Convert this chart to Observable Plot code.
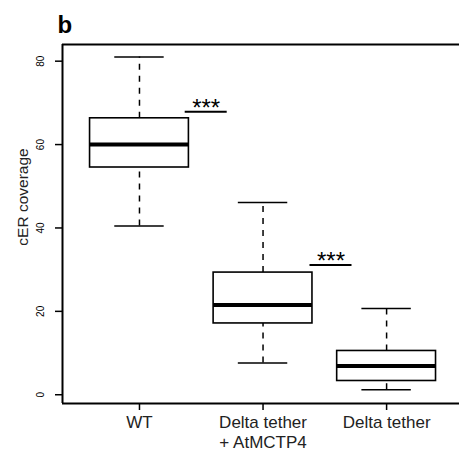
<!DOCTYPE html>
<html>
<head>
<meta charset="utf-8">
<script src="https://cdn.jsdelivr.net/npm/d3@7"></script>
<script src="https://cdn.jsdelivr.net/npm/@observablehq/plot@0.6"></script>
<style>
  html, body { margin: 0; padding: 0; background: #fff; }
</style>
</head>
<body>
<div id="chart"></div>
<script>
// ---- data ----
const groups = ["WT", "Delta tether\n+ AtMCTP4", "Delta tether"];
const positions = [1, 2, 3];
const whiskerLow = [40.5, 7.6, 1.2];
const q1 = [54.5, 17.1, 3.3];
const median = [60.0, 21.5, 6.9];
const q3 = [66.3, 29.3, 10.5];
const whiskerHigh = [81.0, 46.1, 20.7];

const sigStart = [1.37, 2.38];
const sigEnd = [1.71, 2.72];
const sigY = [67.9, 31.1];
const sigLabel = ["***", "***"];

const yTicks = [0, 20, 40, 60, 80];
const yLabel = "cER coverage";
const panelLabel = "b";

const xDomain = [0.377, 3.59];
const yDomain = [-2.1, 84.0];

// ---- tables built from arrays ----
const boxes = groups.map((g, i) => ({
  g, pos: positions[i], lo: whiskerLow[i], q1: q1[i], med: median[i], q3: q3[i], hi: whiskerHigh[i]
}));
const sigs = sigY.map((y, i) => ({ x1: sigStart[i], x2: sigEnd[i], y, label: sigLabel[i] }));

const boxHalf = 0.4, capHalf = 0.2;
const font = "'Liberation Sans', Arial, Helvetica, sans-serif";

const chart = Plot.plot({
  width: 459,
  height: 454,
  marginLeft: 62,
  marginTop: 44,
  marginBottom: 51,
  marginRight: 0,
  style: { fontFamily: font, background: "#fff", color: "#000" },
  x: { domain: xDomain, axis: null },
  y: { domain: yDomain, axis: null },
  marks: [
    // whiskers (dashed)
    Plot.ruleX(boxes, { x: "pos", y1: "q3", y2: "hi", stroke: "#000", strokeWidth: 1.5, strokeDasharray: "6,6" }),
    Plot.ruleX(boxes, { x: "pos", y1: "lo", y2: "q1", stroke: "#000", strokeWidth: 1.5, strokeDasharray: "6,6" }),
    // whisker caps
    Plot.ruleY(boxes, { y: "hi", x1: d => d.pos - capHalf, x2: d => d.pos + capHalf, stroke: "#000", strokeWidth: 1.5 }),
    Plot.ruleY(boxes, { y: "lo", x1: d => d.pos - capHalf, x2: d => d.pos + capHalf, stroke: "#000", strokeWidth: 1.5 }),
    // boxes
    Plot.rect(boxes, { x1: d => d.pos - boxHalf, x2: d => d.pos + boxHalf, y1: "q1", y2: "q3", fill: "#fff", stroke: "#000", strokeWidth: 1.6 }),
    // medians
    Plot.ruleY(boxes, { y: "med", x1: d => d.pos - boxHalf, x2: d => d.pos + boxHalf, stroke: "#000", strokeWidth: 4 }),
    // significance bars
    Plot.ruleY(sigs, { y: "y", x1: "x1", x2: "x2", stroke: "#000", strokeWidth: 2 }),
    Plot.text(sigs, { x: d => (d.x1 + d.x2) / 2, y: "y", text: "label", fontSize: 24, lineAnchor: "bottom", dy: 4, fill: "#000" }),
    // frame (left, top, bottom)
    Plot.ruleY([yDomain[0], yDomain[1]], { stroke: "#000", strokeWidth: 2 }),
    Plot.ruleX([xDomain[0]], { stroke: "#000", strokeWidth: 2 }),
    // y axis ticks
    Plot.axisY({ ticks: yTicks, tickSize: 7, tickFormat: () => "", label: null, strokeWidth: 1.5, stroke: "#000" }),
    Plot.text(yTicks, { x: xDomain[0], y: d => d, text: d => String(d), rotate: -90, dx: -22, fontSize: 10, textAnchor: "middle", lineAnchor: "middle", fill: "#000" }),
    // x axis
    Plot.axisX({ ticks: positions, tickFormat: d => groups[d - 1], tickSize: 7, tickPadding: 4, fontSize: 17, lineHeight: 1.15, label: null, strokeWidth: 1.5, stroke: "#000", fill: "#222" }),
    // y axis title
    Plot.text([yLabel], { frameAnchor: "left", rotate: -90, dx: -39, dy: -27, fontSize: 15.5, textAnchor: "middle", lineAnchor: "middle", fill: "#222" }),
    // panel label
    Plot.text([panelLabel], { frameAnchor: "top-left", dx: -5, dy: -12, fontSize: 24, fontWeight: "bold", textAnchor: "start", lineAnchor: "bottom", fill: "#000" })
  ]
});
document.getElementById("chart").appendChild(chart);
</script>
</body>
</html>
